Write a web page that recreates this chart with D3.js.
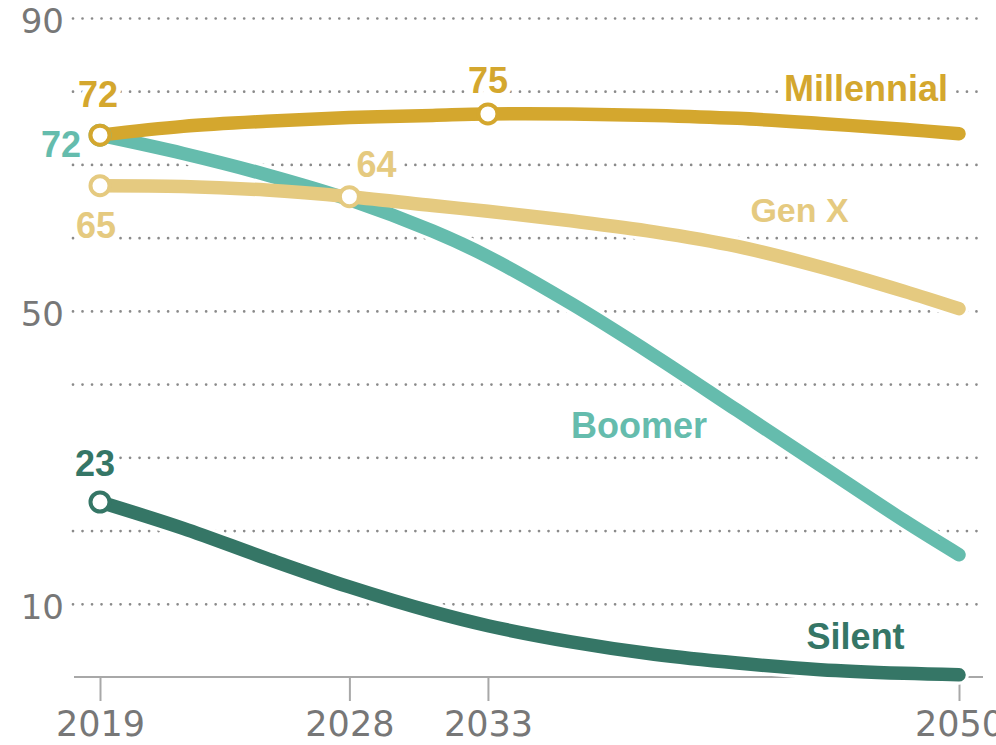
<!DOCTYPE html>
<html>
<head>
<meta charset="utf-8">
<script src="https://cdn.jsdelivr.net/npm/d3@7"></script>
<style>
  body { margin: 0; background: #fff; }
  .grid line { stroke: #8a8a8a; stroke-width: 2.7; stroke-dasharray: 0.01 9.5; stroke-linecap: round; }
  .grid text, .x-axis text { fill: #777; font-family: "DejaVu Sans", sans-serif; }
  .label { font-family: "Liberation Sans", Arial, sans-serif; font-weight: bold; font-size: 36px;
           stroke: #fff; stroke-width: 10px; paint-order: stroke; stroke-linejoin: round; }
</style>
</head>
<body>
<div id="chart"></div>
<script>
// Data (millions)
var years = [2019, 2022, 2025, 2028, 2031, 2033, 2036, 2039, 2042, 2045, 2048, 2050];
var millennial = [74.0, 75.2, 75.9, 76.4, 76.7, 76.9, 76.9, 76.7, 76.3, 75.6, 74.8, 74.2];
var genX       = [67.1, 67.0, 66.5, 65.6, 64.4, 63.6, 62.3, 60.8, 58.8, 56.0, 52.7, 50.3];
var boomer     = [74.0, 71.5, 68.6, 65.2, 60.9, 57.4, 51.0, 43.9, 36.4, 28.9, 21.4, 16.7];
var silent     = [23.9, 20.3, 16.2, 12.3, 8.9, 7.0, 4.8, 3.1, 1.9, 1.0, 0.5, 0.3];

var seriesNames = ["Boomer", "Silent", "Gen X", "Millennial"];
var xTicks = [2019, 2028, 2033, 2050];
var yGridTicks = [10, 20, 30, 40, 50, 60, 70, 80, 90];
var yLabelTicks = [10, 50, 90];

// value call-outs: series, year, label text
var callouts = [
    ["Millennial", 2019, "72"],
    ["Millennial", 2033, "75"],
    ["Boomer", 2019, "72"],
    ["Gen X", 2019, "65"],
    ["Gen X", 2028, "64"],
    ["Silent", 2019, "23"]
];

var svgWidth = 996;
var svgHeight = 745;

var colors = {
    "Millennial": "#d4a72e",
    "Gen X": "#e5ca80",
    "Boomer": "#65bcad",
    "Silent": "#357666"
};

var seriesValues = {
    "Millennial": millennial,
    "Gen X": genX,
    "Boomer": boomer,
    "Silent": silent
};

var svg = d3.select("#chart")
    .append("svg")
    .attr("width", svgWidth)
    .attr("height", svgHeight);

var x = d3.scaleLinear().domain([2019, 2050]).range([100, 959]);
var y = d3.scaleLinear().domain([0, 90]).range([677, 18]);

var gridLeft = 73, gridRight = 980;

// dotted gridlines
var grid = svg.append("g")
    .attr("class", "grid")
    .attr("transform", `translate(${gridLeft}, 0)`)
    .call(d3.axisLeft(y)
        .tickValues(yGridTicks)
        .tickSize(-(gridRight - gridLeft))
        .tickPadding(9)
        .tickFormat(d => yLabelTicks.includes(d) ? d : ""));
grid.select(".domain").remove();
grid.selectAll("text")
    .style("font-size", "34px")
    .attr("dy", "0.42em");

// bottom axis
svg.append("line")
    .attr("x1", 74).attr("x2", 983)
    .attr("y1", y(0)).attr("y2", y(0))
    .attr("stroke", "#a8a8a8")
    .attr("stroke-width", 2);

var xAxis = svg.append("g")
    .attr("class", "x-axis")
    .attr("transform", `translate(0, ${y(0)})`)
    .call(d3.axisBottom(x)
        .tickValues(xTicks)
        .tickSize(24)
        .tickSizeOuter(0)
        .tickPadding(10)
        .tickFormat(d3.format("d")));
xAxis.select(".domain").remove();
xAxis.selectAll("line").attr("stroke", "#a8a8a8").attr("stroke-width", 2);
xAxis.selectAll("text").style("font-size", "35px");

var line = d3.line()
    .x(d => x(d[0]))
    .y(d => y(d[1]))
    .curve(d3.curveCatmullRom.alpha(0.5));

function points(name) {
    return years.map((yr, i) => [yr, seriesValues[name][i]]);
}

// white halos first so gridlines break around the lines
svg.append("g").selectAll("path")
    .data(seriesNames)
    .enter()
    .append("path")
    .attr("d", d => line(points(d)))
    .attr("fill", "none")
    .attr("stroke", "#fff")
    .attr("stroke-width", 20)
    .attr("stroke-linecap", "round");

svg.append("g").selectAll("path")
    .data(seriesNames)
    .enter()
    .append("path")
    .attr("d", d => line(points(d)))
    .attr("fill", "none")
    .attr("stroke", d => colors[d])
    .attr("stroke-width", 13.5)
    .attr("stroke-linecap", "round")
    .attr("stroke-linejoin", "round");

// markers (Boomer 2019 sits under Millennial 2019)
var markerData = callouts.slice().sort((a, b) => seriesNames.indexOf(a[0]) - seriesNames.indexOf(b[0]));
svg.append("g").selectAll("circle")
    .data(markerData)
    .enter()
    .append("circle")
    .attr("cx", d => x(d[1]))
    .attr("cy", d => y(seriesValues[d[0]][years.indexOf(d[1])]))
    .attr("r", 9.5)
    .attr("fill", "#fff")
    .attr("stroke", d => colors[d[0]])
    .attr("stroke-width", 4);

// call-out placement relative to each marker
var calloutOffset = {
    "Millennial 2019": { dx: -2, dy: -28, anchor: "middle" },
    "Millennial 2033": { dx: 0, dy: -21, anchor: "middle" },
    "Boomer 2019": { dx: -19, dy: 22, anchor: "end" },
    "Gen X 2019": { dx: -4, dy: 52, anchor: "middle" },
    "Gen X 2028": { dx: 7, dy: -20, anchor: "start" },
    "Silent 2019": { dx: -5, dy: -26, anchor: "middle" }
};

svg.append("g").selectAll("text")
    .data(callouts)
    .enter()
    .append("text")
    .attr("class", "label")
    .attr("x", d => x(d[1]) + calloutOffset[d[0] + " " + d[1]].dx)
    .attr("y", d => y(seriesValues[d[0]][years.indexOf(d[1])]) + calloutOffset[d[0] + " " + d[1]].dy)
    .attr("text-anchor", d => calloutOffset[d[0] + " " + d[1]].anchor)
    .attr("fill", d => colors[d[0]])
    .text(d => d[2]);

// series names
var nameSpots = {
    "Millennial": { x: x(2050) - 11, y: y(78.6), anchor: "end" },
    "Gen X": { x: x(2042.4) + 2, y: y(62.1), anchor: "start" },
    "Boomer": { x: x(2036.0), y: y(32.7), anchor: "start" },
    "Silent": { x: x(2044.5), y: y(3.8), anchor: "start" }
};

svg.append("g").selectAll("text")
    .data(seriesNames)
    .enter()
    .append("text")
    .attr("class", "label")
    .attr("x", d => nameSpots[d].x)
    .attr("y", d => nameSpots[d].y)
    .attr("text-anchor", d => nameSpots[d].anchor)
    .attr("fill", d => colors[d])
    .style("font-size", d => d === "Gen X" ? "34px" : "36px")
    .text(d => d);
</script>
</body>
</html>
